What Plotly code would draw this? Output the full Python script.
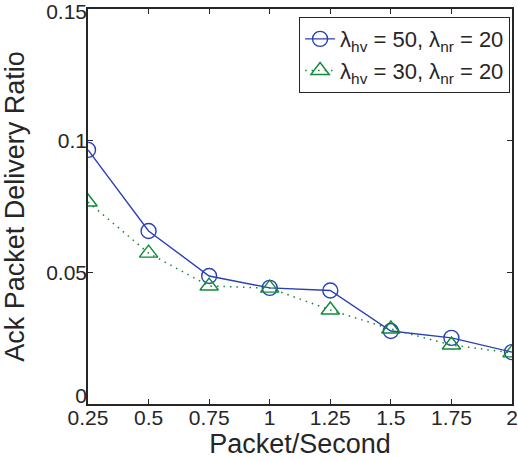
import plotly.graph_objects as go

x_vals = [0.25, 0.5, 0.75, 1.0, 1.25, 1.5, 1.75, 2.0]
x_ticklabels = ["0.25", "0.5", "0.75", "1", "1.25", "1.5", "1.75", "2"]
y_hv50 = [0.0965, 0.0657, 0.0486, 0.0441, 0.0431, 0.0277, 0.0251, 0.0197]
y_hv30 = [0.0767, 0.0573, 0.0448, 0.0440, 0.0357, 0.0285, 0.0224, 0.0194]
y_ticks_main = [0.05, 0.1]
y_ticklabels_main = ["0.05", "0.1"]
y_ticks_zero = [0]
y_ticklabels_zero = ["0"]
y_ticks_top = [0.15]
y_ticklabels_top = ["0.15"]

FONT = "Liberation Sans, Arial, Helvetica, sans-serif"
AX = "#262626"
BLUE = "#2b40b4"
GREEN = "#0f8a3a"

fig = go.Figure()
fig.add_trace(go.Scatter(
    x=x_vals, y=y_hv50, mode="lines+markers",
    name="λ<sub>hv</sub> = 50, λ<sub>nr</sub> = 20",
    line=dict(color=BLUE, width=1.4),
    marker=dict(symbol="circle-open", size=15, color=BLUE, line=dict(width=1.4)),
))
fig.add_trace(go.Scatter(
    x=x_vals, y=y_hv30, mode="lines+markers",
    name="λ<sub>hv</sub> = 30, λ<sub>nr</sub> = 20",
    line=dict(color=GREEN, width=1.5, dash="1.5px,5px"),
    marker=dict(symbol="triangle-up-open", size=16, color=GREEN, line=dict(width=1.4)),
))

extra_axis = dict(
    range=[0, 0.15], overlaying="y", side="left",
    tickmode="array", ticks="", showline=False, showgrid=False, zeroline=False,
    tickfont=dict(family=FONT, size=21, color=AX),
    ticklabeloverflow="allow", automargin=False,
)

fig.update_layout(
    width=518, height=461,
    margin=dict(l=88, r=6, t=9, b=57),
    paper_bgcolor="white", plot_bgcolor="white",
    font=dict(family=FONT, size=21, color=AX),
    showlegend=True,
    legend=dict(
        x=0.995, y=0.98, xanchor="right", yanchor="top",
        bgcolor="white", bordercolor=AX, borderwidth=1.2,
        font=dict(family=FONT, size=22, color=AX),
        tracegroupgap=0,
    ),
    xaxis=dict(
        range=[0.25, 2.0], tickmode="array", tickvals=x_vals, ticktext=x_ticklabels,
        ticks="inside", ticklen=5, tickwidth=1, tickcolor=AX,
        showline=True, linecolor=AX, linewidth=1.5, mirror="ticks",
        showgrid=False, zeroline=False,
        tickfont=dict(family=FONT, size=21, color=AX),
        ticklabeloverflow="allow", ticklabelstandoff=-6,
        title=dict(text="Packet/Second", font=dict(family=FONT, size=27, color=AX), standoff=0),
        automargin=False,
    ),
    yaxis=dict(
        range=[0, 0.15], tickmode="array",
        tickvals=y_ticks_zero + y_ticks_main + y_ticks_top,
        ticktext=["", "", "", ""],
        ticks="inside", ticklen=5, tickwidth=1, tickcolor=AX,
        showline=True, linecolor=AX, linewidth=1.5, mirror="ticks",
        showgrid=False, zeroline=False,
        tickfont=dict(family=FONT, size=21, color=AX),
        ticklabeloverflow="allow",
        title=dict(text="Ack Packet Delivery Ratio", font=dict(family=FONT, size=27, color=AX), standoff=52),
        automargin=False,
    ),
    yaxis2=dict(extra_axis, tickvals=y_ticks_main, ticktext=y_ticklabels_main),
    yaxis3=dict(extra_axis, tickvals=y_ticks_zero, ticktext=y_ticklabels_zero, ticklabelshift=-8),
    yaxis4=dict(extra_axis, tickvals=y_ticks_top, ticktext=y_ticklabels_top, ticklabelshift=3),
)
for ax in ["y2", "y3", "y4"]:
    fig.add_trace(go.Scatter(x=[], y=[], yaxis=ax, showlegend=False, hoverinfo="skip"))

fig.write_html("out.html")
